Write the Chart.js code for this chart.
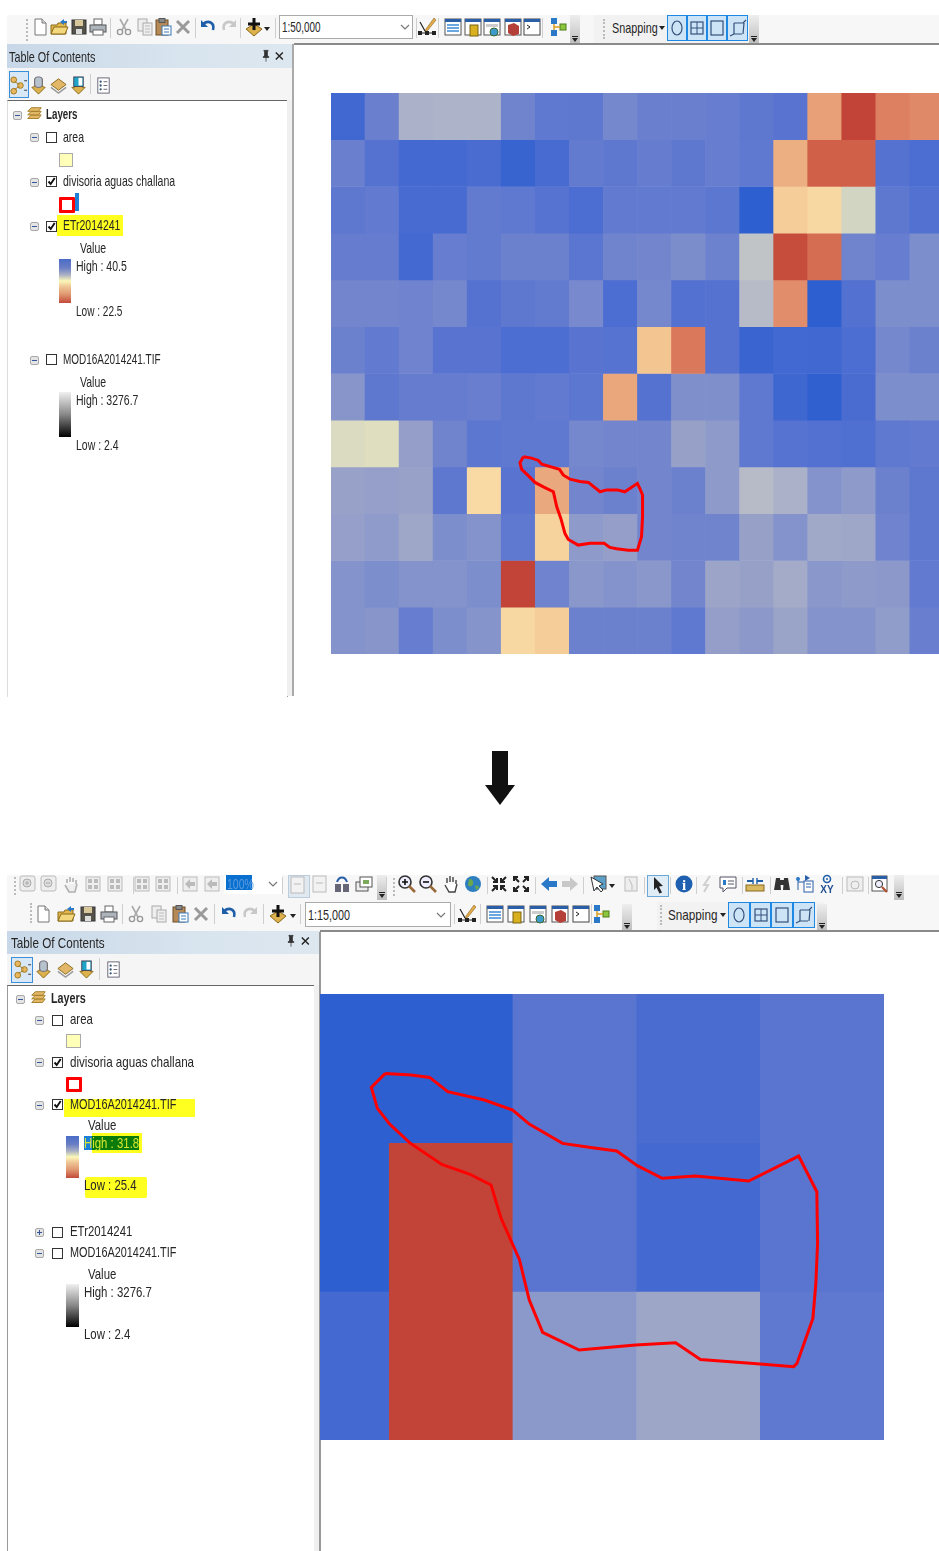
<!DOCTYPE html>
<html>
<head>
<meta charset="utf-8">
<title>ETr2014241 / MOD16A2014241</title>
<script src="https://cdn.jsdelivr.net/npm/chart.js@4"></script>
<style>
  html, body { margin: 0; padding: 0; background: #fff; }
  #page { position: relative; width: 939px; height: 1551px; overflow: hidden; font-family: "Liberation Sans", sans-serif; font-size: 15px; color: #262626; }
  #ui { position: absolute; left: 0; top: 0; width: 939px; height: 1551px; filter: blur(0.35px); }
  #ui div, #ui svg, #ui span { position: absolute; }
  .t { white-space: nowrap; transform-origin: left center; }
  canvas { position: absolute; display: block; }
</style>
</head>
<body>
<div id="page">
  <div id="ui"></div>
  <canvas id="etrMap" width="608" height="561" style="left:331px;top:93px"></canvas>
  <canvas id="modMap" width="564" height="446" style="left:320px;top:994px"></canvas>
</div>
<script>
// Data: ETr2014241 raster, one row per line
const etrHigh = 40.5;
const etrLow = 22.5;
const etrRows = [
  [39.6, 37.3, 33.5, 33.4, 33.4, 36.9, 37.9, 38.0, 36.6, 37.3, 37.3, 37.5, 38.0, 38.3, 27.9, 22.5, 26.0, 26.5],
  [37.3, 38.5, 39.4, 39.4, 39.1, 40.0, 39.2, 37.7, 38.0, 37.6, 38.0, 37.5, 37.9, 28.8, 24.3, 24.3, 38.5, 39.0],
  [38.0, 37.8, 39.2, 39.2, 37.7, 37.9, 38.4, 39.0, 37.8, 37.8, 37.8, 38.1, 40.5, 30.4, 30.8, 32.2, 38.0, 38.6],
  [37.6, 37.6, 39.4, 37.5, 37.7, 37.2, 37.2, 38.2, 36.9, 36.7, 36.1, 37.1, 32.7, 23.0, 25.0, 36.9, 37.5, 36.0],
  [36.7, 36.7, 37.0, 36.6, 38.5, 38.0, 37.7, 36.4, 39.0, 36.5, 38.6, 38.5, 33.0, 26.7, 40.5, 38.6, 36.0, 36.0],
  [37.2, 37.8, 37.0, 38.3, 38.3, 39.0, 39.0, 38.3, 38.4, 30.1, 25.6, 38.5, 39.9, 39.5, 39.6, 39.0, 36.5, 37.2],
  [35.4, 38.0, 37.6, 37.6, 37.4, 38.0, 37.8, 38.1, 28.3, 38.5, 35.9, 35.9, 37.9, 39.7, 40.4, 39.1, 36.0, 36.0],
  [32.0, 31.9, 34.6, 36.9, 38.1, 37.9, 37.9, 36.5, 36.8, 36.8, 34.4, 35.0, 37.9, 38.4, 38.6, 38.8, 37.9, 37.8],
  [34.3, 34.5, 34.3, 38.0, 30.9, 38.3, 28.4, 36.7, 37.2, 36.7, 37.2, 35.0, 33.0, 33.5, 35.6, 35.0, 37.2, 38.0],
  [34.5, 34.9, 34.0, 36.0, 35.6, 37.9, 30.6, 35.0, 34.6, 36.7, 36.9, 36.9, 34.4, 35.6, 33.9, 34.0, 37.0, 38.0],
  [35.6, 36.0, 35.6, 35.6, 36.0, 22.5, 37.0, 35.2, 35.6, 35.2, 36.8, 34.1, 34.4, 33.8, 35.2, 35.0, 35.1, 37.8],
  [35.6, 35.4, 37.5, 36.0, 35.5, 30.8, 30.4, 37.2, 37.2, 37.2, 37.9, 34.6, 35.1, 34.2, 35.6, 35.6, 34.8, 37.4]
];

// Data: MOD16A2014241 raster, zoomed view
const modHigh = 31.8;
const modLow = 25.4;
const modRows = [
  [31.8, 31.8, 31.0, 31.3, 31.0],
  [31.8, 25.4, 31.0, 31.4, 31.0],
  [31.4, 25.4, 29.9, 29.5, 30.9]
];

// Data: divisoria aguas challana boundary, in raster column / row units
const etrBasinX = [5.65, 5.89, 6.09, 6.19, 6.71, 6.82, 7.02, 7.31, 7.56, 7.90, 8.10, 8.41, 8.63, 9.00, 9.07, 9.15, 9.15, 9.12, 9.00, 8.73, 8.39, 8.19, 8.02, 7.61, 7.26, 6.97, 6.87, 6.75, 6.63, 6.53, 6.28, 5.99, 5.80, 5.60, 5.55, 5.65];
const etrBasinY = [7.78, 7.81, 7.86, 7.94, 8.05, 8.17, 8.26, 8.31, 8.33, 8.53, 8.49, 8.49, 8.53, 8.35, 8.46, 8.60, 9.06, 9.49, 9.78, 9.78, 9.75, 9.72, 9.63, 9.63, 9.67, 9.55, 9.42, 9.10, 8.85, 8.53, 8.44, 8.33, 8.19, 8.05, 7.91, 7.78];
const modBasinX = [0.968, 1.178, 1.326, 1.473, 1.769, 1.998, 2.132, 2.401, 2.629, 2.839, 3.006, 3.207, 3.476, 3.906, 4.310, 4.457, 4.463, 4.449, 4.425, 4.296, 4.269, 3.947, 3.516, 3.315, 2.992, 2.535, 2.240, 2.132, 2.052, 1.904, 1.823, 1.648, 1.425, 1.164, 1.003, 0.904, 0.855, 0.968];
const modBasinY = [0.534, 0.545, 0.561, 0.657, 0.713, 0.781, 0.875, 1.005, 1.032, 1.056, 1.155, 1.240, 1.225, 1.258, 1.090, 1.330, 1.677, 1.946, 2.182, 2.485, 2.507, 2.485, 2.458, 2.346, 2.361, 2.395, 2.276, 2.059, 1.785, 1.509, 1.285, 1.211, 1.146, 1.000, 0.875, 0.769, 0.628, 0.534];

// Colour ramp, 0 = high end (blue), 1 = low end (red)
const rampStops = [
  [0, [46, 95, 208]], [0.11, [85, 114, 209]], [0.18, [107, 128, 206]], [0.26, [128, 144, 204]],
  [0.35, [154, 163, 200]], [0.42, [184, 188, 200]], [0.48, [224, 224, 192]], [0.53, [249, 220, 166]],
  [0.58, [242, 196, 144]], [0.70, [232, 160, 120]], [0.78, [224, 136, 104]], [0.90, [208, 96, 72]], [1, [194, 68, 56]]
];

function rampColor(value, high, low) {
  const s = Math.min(1, Math.max(0, (high - value) / (high - low)));
  for (let i = 1; i < rampStops.length; i++) {
    if (s <= rampStops[i][0]) {
      const [a, ca] = rampStops[i - 1];
      const [b, cb] = rampStops[i];
      const f = (s - a) / (b - a);
      const c = ca.map((v, k) => Math.round(v + (cb[k] - v) * f));
      return `rgb(${c[0]},${c[1]},${c[2]})`;
    }
  }
  return 'rgb(194,68,56)';
}

// One floating bar dataset per raster row, plus the boundary line on top
function rasterChart(id, rows, high, low, basinX, basinY, xMin, xMax) {
  const canvas = document.getElementById(id);
  const cellWidth = canvas.width / (xMax - xMin);
  const datasets = rows.map((row, r) => ({
    type: 'bar',
    order: 1,
    grouped: false,
    barThickness: cellWidth,
    data: row.map((v, c) => ({ x: c + 0.5, y: [r, r + 1] })),
    backgroundColor: row.map(v => rampColor(v, high, low))
  }));
  datasets.push({
    type: 'line',
    order: 0,
    data: basinX.map((x, i) => ({ x: x, y: basinY[i] })),
    borderColor: '#ff0000',
    borderWidth: 3,
    pointRadius: 0,
    tension: 0
  });
  return new Chart(canvas, {
    data: { datasets: datasets },
    options: {
      responsive: false,
      animation: false,
      layout: { padding: 0 },
      plugins: { legend: { display: false }, tooltip: { enabled: false } },
      scales: {
        x: { type: 'linear', offset: false, min: xMin, max: xMax, display: false },
        y: { type: 'linear', reverse: true, min: 0, max: rows.length, display: false }
      }
    }
  });
}

rasterChart('etrMap', etrRows, etrHigh, etrLow, etrBasinX, etrBasinY, 0, 17.856);
rasterChart('modMap', modRows, modHigh, modLow, modBasinX, modBasinY, 0.44, 5);

// ArcMap window chrome around the two maps
const ui = document.getElementById('ui');
let textScale = 0.7; // the screenshots are squeezed sideways

function box(x, y, w, h, bg, extra) {
  const d = document.createElement('div');
  d.style.cssText = `left:${x}px;top:${y}px;width:${w}px;height:${h}px;background:${bg};${extra || ''}`;
  ui.appendChild(d);
  return d;
}

function text(x, y, str, extra, scale) {
  const d = document.createElement('div');
  d.className = 't';
  d.style.cssText = `left:${x}px;top:${y - 1}px;transform:translateY(-50%) scaleX(${scale || textScale});${extra || ''}`;
  d.textContent = str;
  ui.appendChild(d);
}

const icons = {
  doc: '<path d="M5 2h7l4 4v12H5z" fill="#fff" stroke="#777"/><path d="M12 2v4h4" fill="#ddd" stroke="#777"/>',
  folder: '<path d="M2 8h6l1-2h8v11H2z" fill="#e2b84a" stroke="#8a6a1c"/><path d="M2 17l3-7h14l-3 7z" fill="#f3d77c" stroke="#8a6a1c"/><path d="M11 5l4-3v2h3v2h-3v2z" fill="#2a78c8"/>',
  save: '<rect x="3" y="3" width="14" height="14" fill="#55524a" stroke="#333"/><rect x="6" y="3" width="8" height="6" fill="#d8c79a"/><rect x="7" y="12" width="6" height="5" fill="#ddd"/>',
  print: '<rect x="6" y="2" width="8" height="6" fill="#fff" stroke="#666"/><rect x="2" y="8" width="16" height="7" fill="#aeb4bc" stroke="#555"/><rect x="5" y="13" width="10" height="5" fill="#fff" stroke="#666"/>',
  cut: '<path d="M6 2l6 11M14 2L8 13" stroke="#aaa" stroke-width="1.6" fill="none"/><circle cx="6" cy="15" r="2.6" fill="none" stroke="#999" stroke-width="1.4"/><circle cx="14" cy="15" r="2.6" fill="none" stroke="#999" stroke-width="1.4"/>',
  copy: '<rect x="3" y="2" width="9" height="12" fill="#eee" stroke="#aaa"/><rect x="8" y="6" width="9" height="12" fill="#eee" stroke="#aaa"/><path d="M10 9h5M10 12h5M10 15h5" stroke="#bbb"/>',
  paste: '<rect x="3" y="3" width="12" height="15" fill="#b58a56" stroke="#6d4f2a"/><rect x="6" y="1.5" width="6" height="4" fill="#888" stroke="#555"/><rect x="9" y="9" width="9" height="9" fill="#fff" stroke="#3b78b8"/><path d="M11 12h5M11 15h5" stroke="#3b78b8"/>',
  del: '<path d="M4 4l12 12M16 4L4 16" stroke="#9a9a9a" stroke-width="3"/>',
  undo: '<path d="M5 7c5-4 12-2 10 6" stroke="#1f5fa8" stroke-width="2.6" fill="none"/><path d="M3 3v7h7z" fill="#1f5fa8"/>',
  redo: '<path d="M15 7c-5-4-12-2-10 6" stroke="#c8c8c8" stroke-width="2.6" fill="none"/><path d="M17 3v7h-7z" fill="#c8c8c8"/>',
  add: '<path d="M10 7l8 5-8 7-8-7z" fill="#dcb04c" stroke="#8a6a1c"/><path d="M10 1v12M4 7h12" stroke="#111" stroke-width="3"/>',
  editor: '<path d="M17 1L9 12l-1 3 3-2L19 3z" fill="#e2a94a" stroke="#8a6a1c" stroke-width=".6"/><path d="M3 5l5 9M2 16h16" stroke="#222" stroke-width="1.2"/><rect x="1" y="14" width="4" height="4" fill="#222"/><rect x="8" y="14" width="4" height="4" fill="#222"/><rect x="15" y="14" width="4" height="4" fill="#222"/>',
  winTable: '<rect x="2" y="2" width="16" height="16" fill="#fff" stroke="#555"/><rect x="2" y="2" width="16" height="3" fill="#2a5fa8"/><path d="M4 8h12M4 11h12M4 14h12" stroke="#3a8ad8" stroke-width="1.6"/>',
  winCat: '<rect x="2" y="2" width="16" height="16" fill="#fff" stroke="#555"/><rect x="2" y="2" width="16" height="3" fill="#2a5fa8"/><rect x="7" y="8" width="8" height="11" fill="#d8b020" stroke="#7a6410"/>',
  winSearch: '<rect x="2" y="2" width="16" height="16" fill="#fff" stroke="#555"/><rect x="2" y="2" width="16" height="3" fill="#2a5fa8"/><rect x="4" y="7" width="12" height="3" fill="#ccc"/><circle cx="12" cy="15" r="4" fill="#3d9acb" stroke="#3a6a30"/>',
  winBox: '<rect x="2" y="2" width="16" height="16" fill="#fff" stroke="#555"/><rect x="2" y="2" width="16" height="3" fill="#2a5fa8"/><path d="M5 8l6-2 5 3v8l-6 2-5-3z" fill="#b5403a"/>',
  winPy: '<rect x="2" y="2" width="16" height="16" fill="#fff" stroke="#444"/><rect x="2" y="2" width="16" height="3" fill="#2a5fa8"/><path d="M5 8l3 2-3 2" stroke="#222" fill="none"/>',
  model: '<rect x="3" y="1" width="6" height="6" fill="#2a78c8"/><rect x="3" y="13" width="6" height="6" fill="#2a78c8"/><rect x="12" y="7" width="6" height="6" fill="#8cc63f" stroke="#4d7f1a"/><path d="M6 7v6M6 10h6" stroke="#d8a020" stroke-width="1.5"/>',
  tocList: '<circle cx="5" cy="4" r="3" fill="#e8b860" stroke="#a07820"/><circle cx="5" cy="16" r="3" fill="#e8b860" stroke="#a07820"/><circle cx="12" cy="10" r="3" fill="#e8b860" stroke="#a07820"/><path d="M6 6l5 3M6 14l5-3" stroke="#a07820"/><path d="M16 5h3M16 15h3" stroke="#333"/>',
  tocDb: '<path d="M6 3h8v8l3 1-7 7-7-7 3-1z" fill="#dcb04c" stroke="#8a6a1c"/><rect x="6" y="1" width="8" height="11" rx="3" fill="#b8c2cc" stroke="#667"/>',
  tocLayers: '<path d="M10 3l8 6-8 6-8-6z" fill="#e2b868" stroke="#8a6a1c"/><path d="M2 12l8 6 8-6" fill="none" stroke="#999" stroke-width="1.6"/>',
  tocPick: '<path d="M6 8v4H3l7 7 7-7h-3V8z" fill="#dcb04c" stroke="#8a6a1c"/><rect x="5" y="1" width="10" height="10" fill="#1ea4c8" stroke="#445"/><rect x="10" y="2" width="4" height="8" fill="#fff"/>',
  tocOpts: '<rect x="4" y="2" width="12" height="16" fill="#fff" stroke="#667"/><circle cx="7" cy="6" r="1.2" fill="#357"/><circle cx="7" cy="10" r="1.2" fill="#357"/><circle cx="7" cy="14" r="1.2" fill="#357"/><path d="M10 6h4M10 10h4M10 14h4" stroke="#667"/>',
  layers: '<path d="M3 15l4-4h11l-3 4z" fill="#e2b868" stroke="#a07820"/><path d="M3 11l4-4h11l-3 4z" fill="#e2b868" stroke="#a07820"/><path d="M3 7l4-4h11l-3 4z" fill="#e2b868" stroke="#a07820"/>',
  pin: '<path d="M7 2h6v1l-1 1v6l2 1v1H6v-1l2-1V4L7 3zM10 12v6" stroke="#222" fill="#333"/>',
  close: '<path d="M4 5l10 10M14 5L4 15" stroke="#222" stroke-width="2"/>',
  gZoomIn: '<rect x="2" y="2" width="15" height="15" rx="2" fill="#eee" stroke="#bbb"/><circle cx="9" cy="9" r="4" fill="#ddd" stroke="#aaa"/><path d="M7 9h4M9 7v4" stroke="#aaa"/>',
  gZoomOut: '<rect x="2" y="2" width="15" height="15" rx="2" fill="#eee" stroke="#bbb"/><circle cx="9" cy="9" r="4" fill="#ddd" stroke="#aaa"/><path d="M7 9h4" stroke="#aaa"/>',
  gHand: '<path d="M6 9V5m3 3V3m3 5V4m3 6V6M4 11l4 7h6l2-8" stroke="#b0b0b0" stroke-width="1.6" fill="#eee"/>',
  gGrid: '<rect x="3" y="3" width="14" height="14" fill="#eee" stroke="#bbb"/><rect x="5" y="5" width="4" height="4" fill="#bbb"/><rect x="11" y="5" width="4" height="4" fill="#bbb"/><rect x="5" y="11" width="4" height="4" fill="#bbb"/><rect x="11" y="11" width="4" height="4" fill="#bbb"/>',
  gArrow: '<rect x="3" y="3" width="14" height="14" fill="#eee" stroke="#bbb"/><path d="M5 10l5-5v3h5v4h-5v3z" fill="#bbb"/>',
  gPage: '<rect x="3" y="2" width="13" height="16" fill="#f2f2f2" stroke="#bbb"/><path d="M6 9h7" stroke="#bbb"/>',
  pageTurn: '<rect x="3" y="10" width="6" height="8" fill="#667" /><rect x="11" y="10" width="6" height="8" fill="#667"/><path d="M5 8c2-6 8-6 10 0" stroke="#2a5fa8" stroke-width="2" fill="none"/>',
  pages: '<rect x="2" y="8" width="12" height="9" fill="#eee" stroke="#555"/><rect x="6" y="3" width="12" height="10" fill="#fff" stroke="#555"/><rect x="9" y="6" width="6" height="4" fill="#7aaa5a"/>',
  zoomIn: '<circle cx="8" cy="8" r="6" fill="#eef" stroke="#333" stroke-width="1.6"/><path d="M5 8h6M8 5v6" stroke="#111" stroke-width="1.6"/><path d="M12 12l6 6" stroke="#9a6a3a" stroke-width="2.6"/>',
  zoomOut: '<circle cx="8" cy="8" r="6" fill="#eef" stroke="#333" stroke-width="1.6"/><path d="M5 8h6" stroke="#111" stroke-width="1.6"/><path d="M12 12l6 6" stroke="#9a6a3a" stroke-width="2.6"/>',
  hand: '<path d="M6 9V4m3 4V2m3 6V3m3 7V6M4 11l4 7h6l2-8" stroke="#444" stroke-width="1.4" fill="#fff"/>',
  globe: '<circle cx="10" cy="10" r="8" fill="#2e7fc0"/><path d="M6 5c3 0 5 2 4 5s-4 3-5 1zM12 12c2-1 4 0 4 2l-3 2z" fill="#6aa84f"/>',
  fixIn: '<path d="M3 3l5 5M17 3l-5 5M3 17l5-5M17 17l-5-5" stroke="#222" stroke-width="2"/><path d="M8 4v4H4M12 4v4h4M8 16v-4H4M12 16v-4h4" stroke="#222" stroke-width="2" fill="none"/>',
  fixOut: '<path d="M8 8L3 3M12 8l5-5M8 12l-5 5M12 12l5 5" stroke="#222" stroke-width="2"/><path d="M3 7V3h4M17 7V3h-4M3 13v4h4M17 13v4h-4" stroke="#222" stroke-width="2" fill="none"/>',
  back: '<path d="M2 10l8-7v4h8v6h-8v4z" fill="#2a78c8"/>',
  fwd: '<path d="M18 10l-8-7v4H2v6h8v4z" fill="#c8c8c8"/>',
  selMap: '<rect x="6" y="2" width="12" height="13" fill="#5aa0c8" stroke="#555"/><path d="M3 3l3 14 3-4 4 5 2-2-4-4 4-2z" fill="#fff" stroke="#333"/>',
  gClear: '<rect x="4" y="3" width="12" height="14" fill="#eee" stroke="#bbb"/><path d="M8 5l3 6v5" stroke="#bbb" fill="none"/>',
  cursor: '<path d="M6 2l9 9-4 .5 3 6-2.5 1-3-6L6 15z" fill="#222"/>',
  info: '<circle cx="10" cy="10" r="8.5" fill="#1f5fb0"/><text x="10" y="15.5" font-size="15" font-weight="bold" text-anchor="middle" fill="#fff" font-family="Liberation Serif">i</text>',
  bolt: '<path d="M13 2L7 11h4l-4 7" stroke="#d0d0d0" stroke-width="2" fill="none"/>',
  note: '<path d="M2 3h16v11H9l-4 4v-4H2z" fill="#fff" stroke="#556"/><path d="M5 6h3v5H5z" fill="#2a78c8"/><path d="M10 7h6M10 10h6" stroke="#556"/>',
  ruler: '<rect x="1" y="11" width="18" height="6" fill="#d8b860" stroke="#8a6a1c"/><path d="M2 7h6M12 7h6" stroke="#1f5fa8" stroke-width="2"/><path d="M8 4v6M12 4v6" stroke="#1f5fa8" stroke-width="1.4"/>',
  binoc: '<path d="M2 16l2-12h4l1 12zM11 16l1-12h4l2 12z" fill="#333"/><rect x="8" y="6" width="4" height="5" fill="#333"/>',
  route: '<rect x="9" y="7" width="9" height="11" fill="#fff" stroke="#2a5fa8"/><path d="M3 3v13M3 8h6M11 10h5M11 13h5" stroke="#2a5fa8"/><circle cx="3" cy="5" r="2" fill="#2a78c8"/><path d="M10 1l5 3-5 3z" fill="#2a5fa8"/>',
  xy: '<circle cx="10" cy="5" r="3.5" fill="none" stroke="#1f5fa8" stroke-width="1.6"/><circle cx="10" cy="5" r="1" fill="#1f5fa8"/><text x="10" y="18.5" font-size="10" font-weight="bold" text-anchor="middle" fill="#1f4f90" font-family="Liberation Sans">XY</text>',
  clock: '<rect x="2" y="3" width="16" height="14" fill="#eee" stroke="#bbb"/><circle cx="10" cy="11" r="4" fill="none" stroke="#bbb"/>',
  zoomWin: '<rect x="2" y="2" width="15" height="15" fill="#fff" stroke="#555"/><rect x="2" y="2" width="15" height="3" fill="#2a5fa8"/><circle cx="9" cy="10" r="3.6" fill="#eef" stroke="#333"/><path d="M12 13l5 5" stroke="#b05030" stroke-width="2.2"/>',
  snapPoint: '<ellipse cx="10" cy="10" rx="5" ry="7" fill="none" stroke="#33507a" stroke-width="1.2"/>',
  snapEnd: '<rect x="4" y="4" width="12" height="12" fill="none" stroke="#33507a" stroke-width="1.2"/><path d="M10 4v12M4 10h12" stroke="#33507a"/>',
  snapVertex: '<rect x="4" y="3" width="12" height="14" fill="none" stroke="#33507a" stroke-width="1.2"/>',
  snapEdge: '<path d="M6 5h10M6 5v11M5 16h9M16 5l-1 11M2 18l4-2M15 5l3-3" fill="none" stroke="#33507a" stroke-width="1.2"/>'
};

function icon(name, cx, cy, size) {
  const s = size || 20;
  const d = document.createElementNS('http://www.w3.org/2000/svg', 'svg');
  d.setAttribute('viewBox', '0 0 20 20');
  d.setAttribute('width', s);
  d.setAttribute('height', s);
  d.style.cssText = `left:${cx - s / 2}px;top:${cy - s / 2}px`;
  d.innerHTML = icons[name];
  ui.appendChild(d);
}

function vsep(x, y, h) { box(x, y, 1, h, '#cfcfcf'); }
function grip(x, y, h) { box(x, y, 2, h, 'transparent', 'border-left:2px dotted #bbb'); }
function caret(x, y) { box(x, y, 0, 0, 'transparent', 'border-left:3px solid transparent;border-right:3px solid transparent;border-top:4px solid #222'); }
function overflow(x, y, h) {
  box(x, y, 10, h, 'linear-gradient(#eee,#bdbdbd)');
  box(x + 2, y + h - 8, 6, 1, '#222');
  caret(x + 2, y + h - 6);
}
function chevron(x, y) {
  const d = document.createElementNS('http://www.w3.org/2000/svg', 'svg');
  d.setAttribute('width', 10);
  d.setAttribute('height', 6);
  d.style.cssText = `left:${x - 5}px;top:${y - 3}px`;
  d.innerHTML = '<path d="M1 1l4 4 4-4" fill="none" stroke="#777" stroke-width="1.2"/>';
  ui.appendChild(d);
}
function treeBtn(cx, cy, plus) {
  box(cx - 4, cy - 4, 7, 7, '#e4e4e4', 'border:1px solid #a8a8a8;border-radius:2px');
  box(cx - 2, cy, 5, 1, '#34569a');
  if (plus) box(cx, cy - 2, 1, 5, '#34569a');
}
function checkBox(cx, cy, on) {
  box(cx - 5, cy - 5, 9, 9, '#fff', 'border:1px solid #333');
  if (on) {
    const d = document.createElementNS('http://www.w3.org/2000/svg', 'svg');
    d.setAttribute('width', 11);
    d.setAttribute('height', 11);
    d.style.cssText = `left:${cx - 5}px;top:${cy - 5}px`;
    d.innerHTML = '<path d="M2.5 5.5l2.2 2.5 4-6" fill="none" stroke="#111" stroke-width="1.9"/>';
    ui.appendChild(d);
  }
}
function snapButtons(xs, y, h, names) {
  names.forEach((n, i) => {
    box(xs[i], y, xs[i + 1] - xs[i] - 2, h - 2, '#cde4f7', 'border:1px solid #1e88e5');
    icon(n, (xs[i] + xs[i + 1]) / 2, y + h / 2);
  });
}
function ramp(x, y, w, h, bg) { box(x, y, w, h, bg); }

const colorLegend = 'linear-gradient(#4a6cc8 0%,#6a7ec4 20%,#aab0c4 36%,#fbf8b8 50%,#f0c898 62%,#e09870 80%,#c24a3a 100%)';
const greyLegend = 'linear-gradient(#f0f0f0,#888 50%,#000)';

// Upper screenshot
box(7, 15, 932, 29, '#f7f7f7');
grip(26, 19, 22);
[['doc', 40], ['folder', 59], ['save', 79], ['print', 98], ['cut', 124], ['copy', 145], ['paste', 163], ['del', 183], ['undo', 208], ['redo', 229], ['add', 254]].forEach(a => icon(a[0], a[1], 27));
[110, 195, 240, 275, 416, 438, 542].forEach(x => vsep(x, 18, 20));
caret(264, 27);
box(279, 15, 132, 22, '#fff', 'border:1px solid #aaa');
text(282, 27, '1:50,000', '', 0.66);
chevron(405, 27);
[['editor', 427], ['winTable', 453], ['winCat', 473], ['winSearch', 492], ['winBox', 513], ['winPy', 532], ['model', 558]].forEach(a => icon(a[0], a[1], 27));
overflow(570, 15, 29);
box(594, 15, 155, 28, '#f2f2f2');
grip(603, 19, 20);
text(612, 28, 'Snapping', '', 0.72);
caret(659, 26);
snapButtons([667, 687, 707, 727, 748], 15, 26, ['snapPoint', 'snapEnd', 'snapVertex', 'snapEdge']);
overflow(749, 15, 29);
box(294, 43, 645, 2, '#8a8a8a');

box(7, 44, 286, 24, 'linear-gradient(90deg,#c8d8e8,#d8e4ee 60%,#dde7f0)');
text(9, 57, 'Table Of Contents', '', 0.72);
icon('pin', 266, 56, 14);
icon('close', 280, 56, 14);
box(7, 68, 286, 32, '#f5f5f5');
box(9, 71, 18, 25, '#d8e8f6', 'border:1px solid #3a8fd8');
[['tocList', 18], ['tocDb', 38], ['tocLayers', 58], ['tocPick', 78], ['tocOpts', 103]].forEach(a => icon(a[0], a[1], 85, 19));
vsep(90, 74, 20);
box(7, 100, 279, 596, '#fff', 'border-top:1px solid #666;border-right:1px solid #999;border-left:1px solid #ddd');
box(287, 100, 6, 596, '#f0f0f0');
box(292, 44, 2, 652, '#aaa');

treeBtn(17, 115);
icon('layers', 34, 114, 18);
text(46, 114, 'Layers', 'font-weight:bold', 0.65);
treeBtn(34, 137);
checkBox(51, 137, false);
text(63, 137, 'area');
box(59, 153, 12, 12, '#ffffb8', 'border:1px solid #aaa');
treeBtn(34, 182);
checkBox(51, 181, true);
text(63, 181, 'divisoria aguas challana');
box(59, 197, 10, 10, '#fff', 'border:3px solid #f00;border-radius:1px');
box(75, 193, 4, 18, '#1e7fd8');
treeBtn(34, 226);
checkBox(51, 226, true);
box(57, 215, 66, 21, '#ffff20');
text(63, 225, 'ETr2014241');
text(80, 248, 'Value');
ramp(59, 259, 12, 44, colorLegend);
text(76, 266, 'High : 40.5');
text(76, 311, 'Low : 22.5', '', 0.67);
treeBtn(34, 360);
checkBox(51, 359, false);
text(63, 359, 'MOD16A2014241.TIF', '', 0.665);
text(80, 382, 'Value');
ramp(59, 392, 12, 45, greyLegend);
text(76, 400, 'High : 3276.7');
text(76, 445, 'Low : 2.4');

// Arrow between the two screenshots
box(492, 751, 16, 34, '#111');
box(485, 785, 0, 0, 'transparent', 'border-left:15px solid transparent;border-right:15px solid transparent;border-top:20px solid #111');

// Lower screenshot
textScale = 0.76;
box(7, 875, 932, 57, '#f7f7f7');
grip(14, 877, 18);
[['gZoomIn', 28], ['gZoomOut', 49], ['gHand', 71], ['gGrid', 93], ['gGrid', 115], ['gGrid', 142], ['gGrid', 163], ['gArrow', 190], ['gArrow', 212], ['gPage', 320], ['pageTurn', 342], ['pages', 364]].forEach(a => icon(a[0], a[1], 884));
box(224, 875, 58, 19, '#fff');
box(226, 875, 26, 15, '#0a70d0');
text(227, 884, '100%', 'color:#5a9ade', 0.7);
chevron(273, 884);
box(288, 875, 20, 21, '#e0e8f0', 'border:1px solid #bcd');
icon('gPage', 298, 885);
overflow(377, 875, 25);
grip(393, 878, 18);
[['zoomIn', 407], ['zoomOut', 428], ['hand', 451], ['globe', 473], ['fixIn', 499], ['fixOut', 521], ['back', 549], ['fwd', 570], ['selMap', 598], ['gClear', 631], ['info', 684], ['bolt', 707], ['note', 728], ['ruler', 755], ['binoc', 782], ['route', 805], ['xy', 827], ['clock', 855], ['zoomWin', 880]].forEach(a => icon(a[0], a[1], 884));
box(647, 875, 20, 20, '#e0ecf6', 'border:1px solid #6aa8d8');
icon('cursor', 658, 885);
caret(609, 884);
[133, 177, 282, 386, 487, 535, 583, 644, 670, 696, 742, 770, 842, 868].forEach(x => vsep(x, 877, 17));
overflow(894, 875, 25);

grip(30, 903, 20);
[['doc', 43], ['folder', 66], ['save', 88], ['print', 109], ['cut', 136], ['copy', 159], ['paste', 180], ['del', 201], ['undo', 229], ['redo', 250], ['add', 278]].forEach(a => icon(a[0], a[1], 914));
[122, 214, 263, 300, 454, 480, 591].forEach(x => vsep(x, 904, 20));
caret(290, 914);
box(305, 902, 144, 23, '#fff', 'border:1px solid #aaa');
text(308, 915, '1:15,000', '', 0.72);
chevron(441, 915);
[['editor', 467], ['winTable', 495], ['winCat', 516], ['winSearch', 538], ['winBox', 560], ['winPy', 581], ['model', 601]].forEach(a => icon(a[0], a[1], 914));
overflow(622, 904, 27);
box(657, 902, 167, 28, '#f2f2f2');
grip(660, 905, 20);
text(668, 915, 'Snapping', '', 0.78);
caret(720, 913);
snapButtons([728, 750, 771, 793, 815], 902, 26, ['snapPoint', 'snapEnd', 'snapVertex', 'snapEdge']);
overflow(817, 904, 27);
box(320, 930, 619, 2, '#8a8a8a');

box(7, 931, 313, 23, 'linear-gradient(90deg,#c8d8e8,#d8e4ee 60%,#dde7f0)');
text(11, 943, 'Table Of Contents', '', 0.78);
icon('pin', 291, 941, 14);
icon('close', 306, 941, 14);
box(7, 954, 313, 31, '#f5f5f5');
box(11, 957, 20, 24, '#d8e8f6', 'border:1px solid #3a8fd8');
[['tocList', 22], ['tocDb', 43], ['tocLayers', 65], ['tocPick', 86], ['tocOpts', 113]].forEach(a => icon(a[0], a[1], 969, 19));
vsep(99, 958, 22);
box(7, 985, 306, 566, '#fff', 'border-top:1px solid #666;border-right:1px solid #999;border-left:1px solid #999');
box(314, 985, 5, 566, '#f0f0f0');
box(319, 932, 2, 619, '#999');

treeBtn(20, 999);
icon('layers', 38, 998, 18);
text(51, 998, 'Layers', 'font-weight:bold', 0.72);
treeBtn(39, 1020);
checkBox(57, 1020, false);
text(70, 1019, 'area');
box(66, 1034, 13, 12, '#ffffb8', 'border:1px solid #aaa');
treeBtn(39, 1062);
checkBox(57, 1062, true);
text(70, 1062, 'divisoria aguas challana', '', 0.775);
box(66, 1077, 10, 9, '#fff', 'border:3px solid #f00;border-radius:1px');
treeBtn(39, 1105);
checkBox(57, 1104, true);
box(64, 1099, 131, 18, '#ffff20');
text(70, 1104, 'MOD16A2014241.TIF', '', 0.725);
text(88, 1125, 'Value');
ramp(66, 1136, 13, 42, colorLegend);
box(92, 1133, 50, 20, '#ffff20');
box(84, 1136, 8, 14, '#1e7fd8');
box(92, 1136, 47, 14, '#0a7a0a');
text(84, 1143, 'High : 31.8', 'color:#d8e830');
box(85, 1177, 62, 21, '#ffff20', 'border-radius:2px');
text(84, 1185, 'Low : 25.4');
treeBtn(39, 1232, true);
checkBox(57, 1232, false);
text(70, 1231, 'ETr2014241');
treeBtn(39, 1253);
checkBox(57, 1253, false);
text(70, 1252, 'MOD16A2014241.TIF', '', 0.725);
text(88, 1274, 'Value');
ramp(66, 1284, 13, 43, greyLegend);
text(84, 1292, 'High : 3276.7');
text(84, 1334, 'Low : 2.4');
</script>
</body>
</html>
